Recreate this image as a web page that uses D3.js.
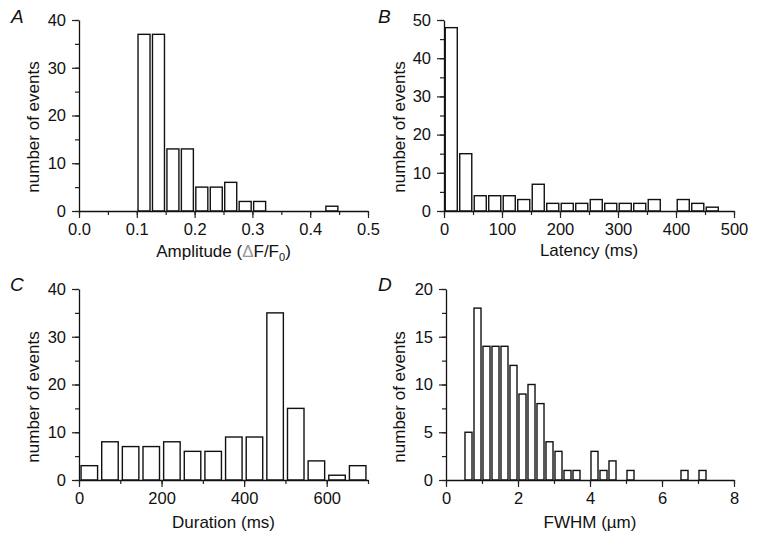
<!DOCTYPE html>
<html><head><meta charset="utf-8">
<script src="https://cdn.jsdelivr.net/npm/d3@7"></script>
<style>
html,body{margin:0;padding:0;background:#fff;}
svg{display:block;font-family:"Liberation Sans",Arial,sans-serif;}
</style></head>
<body>
<svg id="chart" width="759" height="542"></svg>
<script>
// Panel A: Amplitude (ΔF/F0)
const ampBinStart = [0.100,0.125,0.150,0.175,0.200,0.225,0.250,0.275,0.300,0.425];
const ampCounts   = [37,37,13,13,5,5,6,2,2,1];
const ampXTicks = [0.0,0.1,0.2,0.3,0.4,0.5];
const ampYTicks = [0,10,20,30,40];

// Panel B: Latency (ms)
const latBinStart = [0,25,50,75,100,125,150,175,200,225,250,275,300,325,350,400,425,450];
const latCounts   = [48,15,4,4,4,3,7,2,2,2,3,2,2,2,3,3,2,1];
const latXTicks = [0,100,200,300,400,500];
const latYTicks = [0,10,20,30,40,50];

// Panel C: Duration (ms)
const durBinStart = [0,50,100,150,200,250,300,350,400,450,500,550,600,650];
const durCounts   = [3,8,7,7,8,6,6,9,9,35,15,4,1,3];
const durXTicks = [0,200,400,600];
const durYTicks = [0,10,20,30,40];

// Panel D: FWHM (µm)
const fwBinStart = [0.5,0.75,1.0,1.25,1.5,1.75,2.0,2.25,2.5,2.75,3.0,3.25,3.5,4.0,4.25,4.5,5.0,6.5,7.0];
const fwCounts   = [5,18,14,14,14,12,9,10,8,4,3,1,1,3,1,2,1,1,1];
const fwXTicks = [0,2,4,6,8];
const fwYTicks = [0,5,10,15,20];

const svg = d3.select("#chart");

function panel(o){
  const g = svg.append("g");
  const x = d3.scaleLinear().domain(o.xDomain).range([o.x0, o.x1]);
  const y = d3.scaleLinear().domain(o.yDomain).range([o.y0, o.y1]);
  const data = o.starts.map((s,i)=>({s, c:o.counts[i]}));
  const bw = x(o.binW) - x(0);
  const gap = bw*o.gapFrac;
  g.selectAll("rect.bar").data(data).join("rect")
    .attr("class","bar")
    .attr("x", d=>x(d.s)+gap/2)
    .attr("y", d=>y(d.c))
    .attr("width", bw-gap)
    .attr("height", d=>y(0)-y(d.c))
    .attr("fill","#fff").attr("stroke","#111").attr("stroke-width",1.4);

  // minor ticks
  const xMinor = d3.range(o.xDomain[0], o.xDomain[1]+o.xMinor/2, o.xMinor);
  const yMinor = d3.range(o.yDomain[0], o.yDomain[1]+o.yMinor/2, o.yMinor);
  const gx = g.append("g").attr("transform",`translate(0,${o.y0})`);
  gx.call(d3.axisBottom(x).tickValues(xMinor).tickSize(4).tickFormat(""));
  const gx2 = g.append("g").attr("transform",`translate(0,${o.y0})`);
  gx2.call(d3.axisBottom(x).tickValues(o.xTicks).tickSize(7).tickPadding(5).tickSizeOuter(0).tickFormat(o.xFmt));
  const gy = g.append("g").attr("transform",`translate(${o.x0},0)`);
  gy.call(d3.axisLeft(y).tickValues(yMinor).tickSize(4).tickFormat(""));
  const gy2 = g.append("g").attr("transform",`translate(${o.x0},0)`);
  gy2.call(d3.axisLeft(y).tickValues(o.yTicks).tickSize(7).tickPadding(6).tickSizeOuter(0).tickFormat(d3.format("d")));
  [gx,gx2,gy,gy2].forEach(a=>{
    a.select(".domain").attr("stroke","#111").attr("stroke-width",1.3);
    a.selectAll(".tick line").attr("stroke","#222").attr("stroke-width",1.2);
    a.selectAll(".tick text").attr("fill","#111").style("font-size","16.5px").style("font-family","'Liberation Sans',Arial,sans-serif");
  });
  gx.select(".domain").remove(); gy.select(".domain").remove();

  // y title
  g.append("text").attr("transform",`translate(${o.yTitleX},${o.yTitleY}) rotate(-90)`)
    .attr("text-anchor","middle").attr("fill","#111").style("font-size","17px")
    .text("number of events");
  // x title
  const xt = g.append("text").attr("x",(o.x0+o.x1)/2).attr("y",o.xTitleY)
    .attr("text-anchor","middle").attr("fill","#111").style("font-size","17px");
  o.xTitle(xt);
  // letter
  g.append("text").attr("x",o.lx).attr("y",o.ly).attr("fill","#111")
    .style("font-size","19px").style("font-style","italic").text(o.letter);
}

panel({letter:"A", lx:11, ly:23, starts:ampBinStart, counts:ampCounts, binW:0.025, gapFrac:0.17,
  xDomain:[0,0.5], yDomain:[0,40], x0:79, x1:368, y0:211, y1:20,
  xTicks:ampXTicks, yTicks:ampYTicks, xMinor:0.05, yMinor:5, xFmt:d3.format(".1f"),
  yTitleX:39, yTitleY:127, xTitleY:257,
  xTitle:t=>{ t.append("tspan").text("Amplitude (");
    t.append("tspan").attr("fill","#999").text("\u0394");
    t.append("tspan").text("F/F");
    t.append("tspan").attr("dy",4).style("font-size","11px").text("0");
    t.append("tspan").attr("dy",-4).text(")"); }});

panel({letter:"B", lx:378, ly:23, starts:latBinStart, counts:latCounts, binW:25, gapFrac:0.17,
  xDomain:[0,500], yDomain:[0,50], x0:444, x1:734, y0:211, y1:20,
  xTicks:latXTicks, yTicks:latYTicks, xMinor:50, yMinor:5, xFmt:d3.format("d"),
  yTitleX:405, yTitleY:127, xTitleY:256,
  xTitle:t=>t.text("Latency (ms)")});

panel({letter:"C", lx:10, ly:291, starts:durBinStart, counts:durCounts, binW:50, gapFrac:0.2,
  xDomain:[0,700], yDomain:[0,40], x0:79, x1:368, y0:480, y1:289,
  xTicks:durXTicks, yTicks:durYTicks, xMinor:100, yMinor:5, xFmt:d3.format("d"),
  yTitleX:39, yTitleY:397, xTitleY:528,
  xTitle:t=>t.text("Duration (ms)")});

panel({letter:"D", lx:378, ly:291, starts:fwBinStart, counts:fwCounts, binW:0.25, gapFrac:0.22,
  xDomain:[0,8], yDomain:[0,20], x0:446, x1:734, y0:480, y1:289,
  xTicks:fwXTicks, yTicks:fwYTicks, xMinor:1, yMinor:2.5, xFmt:d3.format("d"),
  yTitleX:405, yTitleY:397, xTitleY:528,
  xTitle:t=>t.text("FWHM (\u00b5m)")});
</script>
</body></html>
